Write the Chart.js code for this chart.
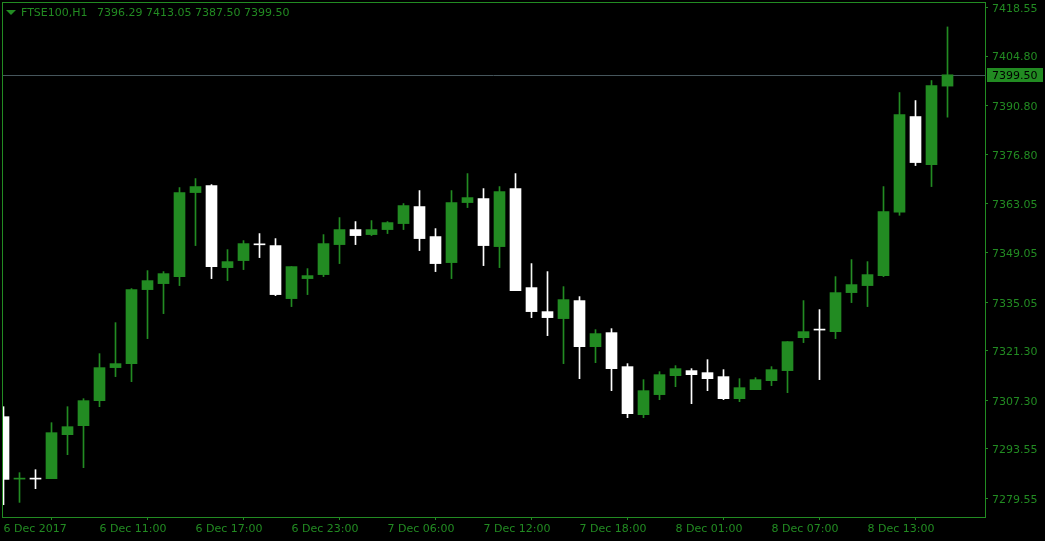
<!DOCTYPE html>
<html>
<head>
<meta charset="utf-8">
<script src="https://cdn.jsdelivr.net/npm/chart.js@4"></script>
<style>
html,body{margin:0;padding:0;background:#000;overflow:hidden;}
canvas{display:block;}
</style>
</head>
<body>
<canvas id="c" width="1045" height="541"></canvas>
<script>
const symbolLabel = 'FTSE100,H1';
const openPrices  = [7302.68,7285.00,7285.10,7285.12,7297.59,7300.13,7307.22,7316.57,7317.70,7338.66,
                     7340.36,7342.34,7366.14,7368.12,7344.89,7346.88,7351.45,7351.13,7336.11,7341.78,
                     7342.91,7351.41,7355.66,7354.24,7355.66,7357.36,7362.18,7353.68,7346.31,7363.31,
                     7364.44,7350.84,7367.27,7339.23,7332.43,7330.45,7335.55,7322.51,7326.48,7316.85,
                     7303.25,7308.92,7314.30,7315.72,7315.15,7314.02,7307.78,7310.33,7312.88,7315.72,
                     7325.06,7327.30,7326.76,7337.81,7339.80,7342.63,7360.56,7387.67,7374.07,7396.29];
const highPrices  = [7305.51,7286.82,7287.67,7300.98,7305.51,7307.78,7320.53,7329.31,7338.95,7344.04,
                     7343.76,7367.56,7370.11,7368.40,7349.99,7352.54,7354.53,7353.11,7345.18,7344.61,
                     7354.24,7359.06,7357.93,7358.21,7357.93,7363.03,7366.71,7355.94,7366.71,7371.52,
                     7367.27,7367.84,7371.52,7346.03,7343.76,7339.51,7336.68,7327.33,7327.61,7317.70,
                     7313.17,7315.43,7317.13,7316.28,7318.83,7316.00,7313.45,7313.73,7316.85,7323.93,
                     7335.55,7333.00,7342.34,7347.16,7346.59,7367.84,7394.47,7392.20,7397.87,7413.05];
const lowPrices   = [7277.75,7278.41,7282.29,7285.12,7291.92,7288.24,7305.51,7314.02,7312.60,7324.78,
                     7331.86,7339.80,7351.13,7341.78,7341.21,7344.33,7347.73,7336.96,7333.85,7337.25,
                     7342.34,7346.03,7351.41,7353.96,7354.53,7355.66,7349.71,7343.76,7341.78,7361.89,
                     7345.46,7344.89,7338.38,7330.73,7325.63,7317.70,7313.45,7317.98,7310.05,7302.40,
                     7302.40,7307.50,7311.18,7306.37,7310.05,7307.50,7306.93,7310.33,7311.47,7309.48,
                     7323.65,7313.17,7324.78,7334.98,7333.85,7342.34,7359.71,7373.79,7367.84,7387.50];
const closePrices = [7284.92,7285.10,7285.00,7298.15,7299.85,7307.22,7316.57,7317.70,7338.66,7341.21,
                     7343.19,7366.14,7367.84,7345.18,7346.59,7351.69,7351.35,7337.25,7345.18,7342.63,
                     7351.69,7355.66,7353.96,7355.66,7357.64,7362.46,7353.11,7346.03,7363.31,7364.72,
                     7351.13,7366.42,7338.38,7332.43,7330.73,7335.83,7322.51,7326.20,7316.28,7303.53,
                     7310.05,7314.58,7316.28,7314.58,7313.45,7307.78,7310.90,7313.17,7316.00,7323.93,
                     7326.76,7327.20,7337.81,7340.08,7342.91,7360.76,7388.24,7374.64,7396.45,7399.50];
const yTickValues = [7418.55,7404.80,7390.80,7376.80,7363.05,7349.05,7335.05,7321.30,7307.30,7293.55,7279.55];
const xTickIndex  = [0,6,12,18,24,30,36,42,48,54];
const xTickLabels = ['6 Dec 2017','6 Dec 11:00','6 Dec 17:00','6 Dec 23:00','7 Dec 06:00',
                     '7 Dec 12:00','7 Dec 18:00','8 Dec 01:00','8 Dec 07:00','8 Dec 13:00'];
const lastPrice = 7399.50;
const yMin = 7274.27, yMax = 7420.11;

const GREEN = '#228B22';
const WHITE = '#FFFFFF';
const FONT = '"DejaVu Sans", sans-serif';

const isUp = openPrices.map((o,i)=> closePrices[i] >= o);
const candleColors = isUp.map(u => u ? GREEN : WHITE);
const bodyData = openPrices.map((o,i)=>({x:i, y:[o, closePrices[i]]}));
const wickData = highPrices.map((h,i)=>({x:i, y:[lowPrices[i], h]}));

const overlay = {
  id:'overlay',
  beforeDatasetsDraw(chart){
    const ctx = chart.ctx, a = chart.chartArea, ys = chart.scales.y;
    const py = Math.round(ys.getPixelForValue(lastPrice)) + 0.5;
    ctx.save();
    ctx.strokeStyle = '#46565c';
    ctx.lineWidth = 1;
    ctx.beginPath(); ctx.moveTo(a.left, py); ctx.lineTo(a.right, py); ctx.stroke();
    ctx.restore();
  },
  afterDraw(chart){
    const ctx = chart.ctx, a = chart.chartArea, ys = chart.scales.y;
    ctx.save();
    ctx.strokeStyle = GREEN; ctx.lineWidth = 1;
    const L = Math.round(a.left)+0.5, T = Math.round(a.top)+0.5, R = Math.round(a.right)+0.5, B = Math.round(a.bottom)+0.5;
    ctx.strokeRect(L, T, R-L, B-T);
    const py = Math.round(ys.getPixelForValue(lastPrice));
    ctx.fillStyle = GREEN;
    ctx.fillRect(987, py-7, 56, 14);
    ctx.fillStyle = '#000';
    ctx.font = '11px ' + FONT;
    ctx.textBaseline = 'middle'; ctx.textAlign = 'left';
    ctx.fillText(lastPrice.toFixed(2), 992, py+1);
    ctx.fillStyle = GREEN;
    ctx.beginPath(); ctx.moveTo(6,10); ctx.lineTo(16,10); ctx.lineTo(11,15); ctx.closePath(); ctx.fill();
    ctx.fillText(symbolLabel, 21, 13);
    ctx.fillText([openPrices[59],highPrices[59],lowPrices[59],closePrices[59]].map(v=>v.toFixed(2)).join(' '), 97, 13);
    ctx.restore();
  }
};

new Chart(document.getElementById('c'), {
  type:'bar',
  data:{
    datasets:[
      {data:wickData, backgroundColor:candleColors, borderWidth:0, barThickness:1, grouped:false, order:2},
      {data:bodyData, backgroundColor:candleColors, borderWidth:0, barThickness:11, grouped:false, order:1, minBarLength:1}
    ]
  },
  options:{
    responsive:false, animation:false,
    layout:{padding:{left:2, top:2, right:0, bottom:0}},
    plugins:{legend:{display:false}, tooltip:{enabled:false}},
    scales:{
      x:{
        type:'linear', min:-0.09375, max:61.34375, offset:false,
        afterBuildTicks(s){ s.ticks = xTickIndex.map(v=>({value:v})); },
        afterFit(s){ s.height = 24; s.paddingLeft = 0; s.paddingRight = 0; },
        grid:{drawOnChartArea:false, drawTicks:true, tickLength:3, color:GREEN},
        border:{display:false},
        ticks:{color:GREEN, font:{family:FONT, size:11}, autoSkip:false, maxRotation:0, minRotation:0,
               align:'start', padding:3,
               callback:(v,i)=> xTickLabels[i]}
      },
      y:{
        position:'right', min:yMin, max:yMax,
        afterBuildTicks(s){ s.ticks = yTickValues.map(v=>({value:v})); },
        afterFit(s){ s.width = 60; s.paddingTop = 0; s.paddingBottom = 0; },
        grid:{drawOnChartArea:false, drawTicks:true, tickLength:3, color:GREEN},
        border:{display:false},
        ticks:{color:GREEN, font:{family:FONT, size:11}, padding:4, autoSkip:false, labelOffset:1.5,
               callback:(v)=> Number(v).toFixed(2)}
      }
    }
  },
  plugins:[overlay]
});
</script>
</body>
</html>
